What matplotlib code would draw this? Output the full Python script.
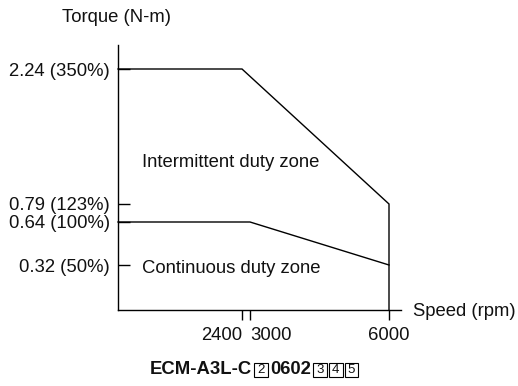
import numpy as np
import matplotlib
matplotlib.use("Agg")
import matplotlib.pyplot as plt
from matplotlib.offsetbox import TextArea, DrawingArea, HPacker, AnnotationBbox
from matplotlib.patches import Rectangle

plt.rcParams['font.family'] = ['Liberation Sans', 'DejaVu Sans']

# Torque-speed curve data
speed_ticks = [2400, 3000, 6000]
speed_tick_labels = ["2400", "3000", "6000"]
torque_ticks = [0.32, 0.64, 0.79, 2.24]
torque_tick_labels = ["0.32 (50%)", "0.64 (100%)", "0.79 (123%)", "2.24 (350%)"]

intermittent_speed = [0, 2400, 6000, 6000]
intermittent_torque = [2.24, 2.24, 0.79, 0.0]
continuous_speed = [0, 3000, 6000]
continuous_torque = [0.64, 0.64, 0.32]

INK = "#111111"
FS = 13.3

# Schematic (not-to-scale) axis scales
x_knots = [0, 2400, 3000, 6000, 9000]
x_pos = [0, 124, 132, 271, 410]
y_knots = [0, 0.32, 0.64, 0.79, 2.24, 3.24]
y_pos = [0, 45, 88, 106, 241, 374]


def x_fwd(v):
    return np.interp(v, x_knots, x_pos)


def x_inv(p):
    return np.interp(p, x_pos, x_knots)


def y_fwd(v):
    return np.interp(v, y_knots, y_pos)


def y_inv(p):
    return np.interp(p, y_pos, y_knots)


W, H = 518, 386
fig = plt.figure(figsize=(W / 100, H / 100), dpi=100)
ax = fig.add_axes([118 / W, 76 / H, 283 / W, 265 / H])
ax.set_xscale('function', functions=(x_fwd, x_inv))
ax.set_yscale('function', functions=(y_fwd, y_inv))
ax.set_xlim(0, x_inv(283))
ax.set_ylim(0, y_inv(265))

ax.plot(intermittent_speed, intermittent_torque, color="black", lw=1.0,
        solid_joinstyle='miter', clip_on=False)
ax.plot(continuous_speed, continuous_torque, color="black", lw=1.0, clip_on=False)

for side in ("top", "right"):
    ax.spines[side].set_visible(False)
for side in ("left", "bottom"):
    ax.spines[side].set_linewidth(1.0)
    ax.spines[side].set_color("black")

ax.set_yticks(torque_ticks, torque_tick_labels)
ax.set_xticks(speed_ticks, speed_tick_labels)
ax.minorticks_off()
ax.tick_params(axis='y', direction='in', length=8.6, width=1.0, pad=5.6,
               labelsize=FS, labelcolor=INK)
ax.tick_params(axis='x', direction='out', length=7.2, width=1.0, pad=5.4,
               labelsize=FS, labelcolor=INK)
for lab, ha in zip(ax.get_xticklabels(), ["right", "left", "center"]):
    lab.set_ha(ha)

# Axis titles
fig.text(117 / W, 1 - 18 / H, "Torque (N-m)", ha="center", va="center",
         fontsize=FS, color=INK)
fig.text(413 / W, 1 - 312 / H, "Speed (rpm)", ha="left", va="center",
         fontsize=FS, color=INK)

# Zone labels
fig.text(142 / W, 1 - 167 / H, "Intermittent duty zone", ha="left",
         va="baseline", fontsize=FS, color=INK)
fig.text(142 / W, 1 - 273 / H, "Continuous duty zone", ha="left",
         va="baseline", fontsize=FS, color=INK)


# Model name with boxed option digits
BOX_W, BOX_H = 9.8, 10.4


def boxed(ch):
    da = DrawingArea(BOX_W, BOX_H, 0, 0)
    da.add_artist(Rectangle((0, 0), BOX_W, BOX_H, fc="white", ec="black", lw=0.8))
    da.add_artist(plt.Text(BOX_W / 2, BOX_H / 2, ch, ha="center", va="center",
                           fontsize=9.5, color=INK))
    return da


bold = dict(fontsize=FS, fontweight="bold", color=INK)
parts = [
    TextArea("ECM-A3L-C", textprops=bold),
    boxed("2"),
    TextArea("0602", textprops=bold),
    boxed("3"),
    boxed("4"),
    boxed("5"),
]
row = HPacker(children=parts, align="center", pad=0, sep=1.6)
ab = AnnotationBbox(row, (254 / W, 1 - 370 / H), xycoords="figure fraction",
                    box_alignment=(0.5, 0.5), frameon=False)
fig.add_artist(ab)

fig.savefig("out.png", dpi=100)
